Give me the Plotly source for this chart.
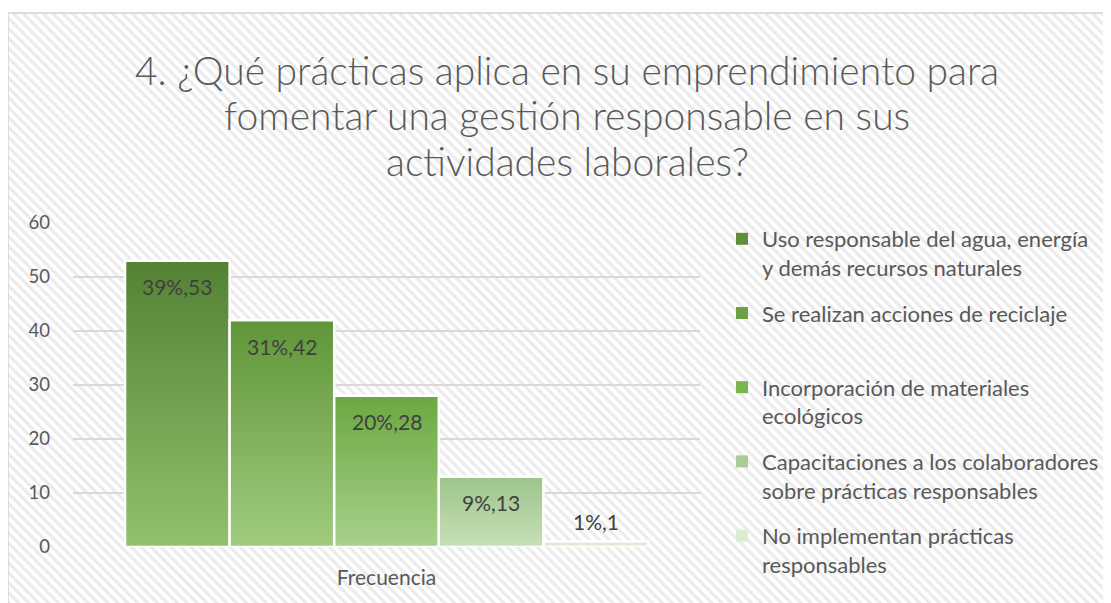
import plotly.graph_objects as go

# data
categoria = "Frecuencia"
titulo = [
    "4. ¿Qué prácticas aplica en su emprendimiento para",
    "fomentar una gestión responsable en sus",
    "actividades laborales?",
]
practicas = [
    "Uso responsable del agua, energía<br>y demás recursos naturales",
    "Se realizan acciones de reciclaje<br> ",
    "Incorporación de materiales<br>ecológicos",
    "Capacitaciones a los colaboradores<br>sobre prácticas responsables",
    "No implementan prácticas<br>responsables",
]
frecuencia = [53, 42, 28, 13, 1]
porcentaje = ["39%", "31%", "20%", "9%", "1%"]
y_ticks = [0, 10, 20, 30, 40, 50, 60]

# style
FW, FH = 1103, 595   # page body adds an 8px offset
OFF = 8
FONT = "Lato"
GRAY = "#595959"
top_colors = ["#548235", "#5f9638", "#6aa840", "#9cc489", "#d4e8c8"]
bottom_colors = ["#93c06c", "#a0cb80", "#a9d18e", "#c8e0b8", "#e8f2e1"]
legend_colors = ["#5f8f3c", "#6aa143", "#7ab451", "#a9cc96", "#dbeccf"]
group_width = 0.834
bar_w = group_width / len(frecuencia)


def fx(px):
    return (px - OFF) / FW


def fy(py):
    return 1 - (py - OFF) / FH


fig = go.Figure()

# striped chart background (full paper, layer under the plot)
bx0, by1 = fx(8), fy(13)
fig.add_trace(go.Scatter(
    x=[bx0, 1.01, 1.01, bx0, bx0], y=[-0.01, -0.01, by1, by1, -0.01],
    mode="lines", fill="toself", line=dict(width=0),
    fillcolor="white",
    fillpattern=dict(shape="\\", fgcolor="#d8d8d8", bgcolor="white", size=7, solidity=0.45),
    xaxis="x", yaxis="y", showlegend=False, hoverinfo="skip",
))

# bars with vertical gradient
for i, (v, p) in enumerate(zip(frecuencia, porcentaje)):
    x0 = -group_width / 2 + i * bar_w
    x1 = x0 + bar_w
    fig.add_trace(go.Scatter(
        x=[x0, x1, x1, x0, x0], y=[0, 0, v, v, 0],
        mode="lines", fill="toself",
        line=dict(color="white", width=2.5),
        fillgradient=dict(type="vertical",
                          colorscale=[[0, bottom_colors[i]], [1, top_colors[i]]]),
        xaxis="x2", yaxis="y2", showlegend=False, hoverinfo="skip",
    ))
    fig.add_annotation(
        x=(x0 + x1) / 2, y=v, xref="x2", yref="y2",
        text=f"{p},{v}", showarrow=False,
        yshift=-26 if v > 5 else 20,
        font=dict(family=FONT, size=21, color="#404040"),
    )

# legend entries
for i, name in enumerate(practicas):
    fig.add_trace(go.Scatter(
        x=[None], y=[None], mode="markers", name=name,
        marker=dict(symbol="square", size=7, color=legend_colors[i]),
        xaxis="x2", yaxis="y2", legendgroup=str(i),
    ))

# title lines
for line, cy in zip(titulo, [70, 115, 161]):
    fig.add_annotation(
        x=fx(567), y=fy(cy), xref="paper", yref="paper",
        text=line, showarrow=False, xanchor="center", yanchor="middle",
        font=dict(family=FONT, size=39, color=GRAY, weight=300),
    )

fig.update_layout(
    width=FW, height=FH,
    margin=dict(l=0, r=0, t=0, b=0, pad=0),
    paper_bgcolor="white",
    plot_bgcolor="rgba(0,0,0,0)",
    xaxis=dict(domain=[0, 1], range=[0, 1], visible=False, fixedrange=True,
               automargin=False),
    yaxis=dict(domain=[0, 1], range=[0, 1], visible=False, fixedrange=True,
               automargin=False),
    xaxis2=dict(
        domain=[fx(73), fx(700)], range=[-0.5, 0.5], anchor="y2",
        tickvals=[0], ticktext=[categoria], showgrid=False, zeroline=False,
        ticks="", ticklabelstandoff=16, automargin=False,
        tickfont=dict(family=FONT, size=21, color=GRAY),
    ),
    yaxis2=dict(
        domain=[fy(547), fy(223)], range=[0, 60], anchor="x2",
        tickvals=y_ticks, showgrid=True, gridcolor="#d9d9d9", gridwidth=1.5,
        zeroline=False, ticks="", ticklabelstandoff=22, automargin=False,
        tickfont=dict(family=FONT, size=18.5, color=GRAY),
    ),
    legend=dict(
        x=fx(722), y=fy(218), xanchor="left", yanchor="top",
        font=dict(family=FONT, size=22, color=GRAY),
        bgcolor="rgba(0,0,0,0)", traceorder="grouped", tracegroupgap=14,
        valign="top", itemsizing="constant",
    ),
    shapes=[dict(type="rect", xref="paper", yref="paper",
                 x0=bx0, x1=1.01, y0=-0.01, y1=by1,
                 line=dict(color="#d4d4d4", width=1.5))],
)

fig.write_html("out.html")
